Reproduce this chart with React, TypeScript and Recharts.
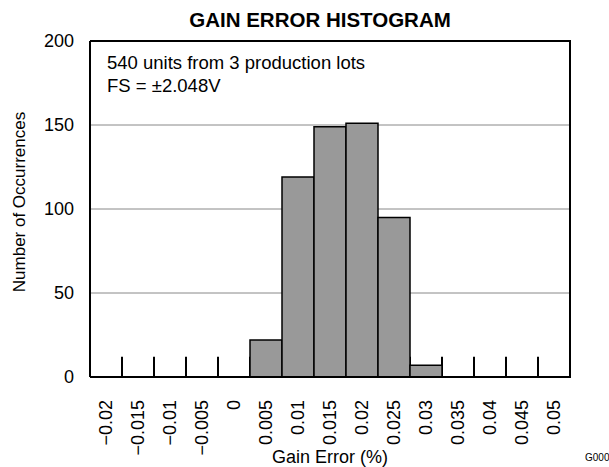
import { BarChart, Bar, XAxis, YAxis, CartesianGrid, Label } from "recharts";

const categories = ["−0.02", "−0.015", "−0.01", "−0.005", "0", "0.005", "0.01", "0.015", "0.02", "0.025", "0.03", "0.035", "0.04", "0.045", "0.05"];
const counts = [0, 0, 0, 0, 0, 22, 119, 149, 151, 95, 7, 0, 0, 0, 0];
// short marks at the left edge of each bin (none on the first, the frame covers it)
const edgeMarks = [0, 12, 12, 12, 12, 12, 12, 12, 12, 12, 12, 12, 12, 12, 12];
const yTicks = [0, 50, 100, 150, 200];

const data = categories.map((name, i) => ({ name, count: counts[i], mark: edgeMarks[i] }));

const font = "'Liberation Sans', Arial, sans-serif";
const frameLine = { stroke: "#000", strokeWidth: 2 };

const RotatedTick = (props: any) => {
  const { x, y, payload } = props;
  return (
    <text
      x={x}
      y={y + 15}
      transform={`rotate(-90, ${x}, ${y + 15})`}
      textAnchor="end"
      dy="0.35em"
      fontSize={18}
      fontFamily={font}
      fill="#000"
    >
      {payload.value}
    </text>
  );
};

const EdgeMark = (props: any) => {
  const { x, y, height } = props;
  if (!height) return null;
  return <line x1={x} x2={x} y1={y} y2={y + height} stroke="#000" strokeWidth={2} />;
};

const YTitle = (props: any) => {
  const { viewBox } = props;
  const cx = 19;
  const cy = viewBox.y + viewBox.height / 2 - 7;
  return (
    <text x={cx} y={cy} transform={`rotate(-90, ${cx}, ${cy})`} textAnchor="middle" dy="0.35em" fontSize={17} fontFamily={font} fill="#000">
      Number of Occurrences
    </text>
  );
};

export default function App() {
  return (
    <div style={{ position: "absolute", left: 0, top: 0, width: 609, height: 467, fontFamily: font }}>
      <div style={{ position: "absolute", left: 70, width: 500, top: 8, textAlign: "center", fontWeight: "bold", fontSize: 20.5 }}>
        GAIN ERROR HISTOGRAM
      </div>
      <BarChart width={609} height={467} data={data} margin={{ top: 41, right: 39, bottom: 0, left: 30 }} barCategoryGap={0}>
        <CartesianGrid vertical={false} stroke="#888" strokeWidth={1} />
        <XAxis
          dataKey="name"
          interval={0}
          height={90}
          tickLine={false}
          axisLine={frameLine}
          tick={<RotatedTick />}
        >
          <Label value="Gain Error (%)" position="insideBottom" offset={4} fontSize={18} fontFamily={font} fill="#000" />
        </XAxis>
        <XAxis xAxisId="marks" dataKey="name" hide />
        <YAxis
          domain={[0, 200]}
          ticks={yTicks}
          width={60}
          tickLine={false}
          tickMargin={10}
          axisLine={frameLine}
          tick={{ fontSize: 18, fontFamily: font, fill: "#000" }}
        >
          <Label content={<YTitle />} position="insideLeft" />
        </YAxis>
        <Bar xAxisId="marks" dataKey="mark" shape={<EdgeMark />} isAnimationActive={false} />
        <Bar dataKey="count" fill="#999999" stroke="#000" strokeWidth={1.5} isAnimationActive={false} />
      </BarChart>
      {/* top and right edges of the plot frame */}
      <div
        style={{
          position: "absolute",
          left: 90,
          top: 40,
          width: 481,
          height: 338,
          boxSizing: "border-box",
          borderTop: "2px solid #000",
          borderRight: "2px solid #000",
          pointerEvents: "none",
        }}
      />
      <div style={{ position: "absolute", left: 107, top: 51, fontSize: 18.5, lineHeight: "23px", color: "#000" }}>
        540 units from 3 production lots
        <br />
        FS = ±2.048V
      </div>
      <div style={{ position: "absolute", left: 585, top: 452, fontSize: 10, color: "#000", whiteSpace: "nowrap" }}>G000</div>
    </div>
  );
}
